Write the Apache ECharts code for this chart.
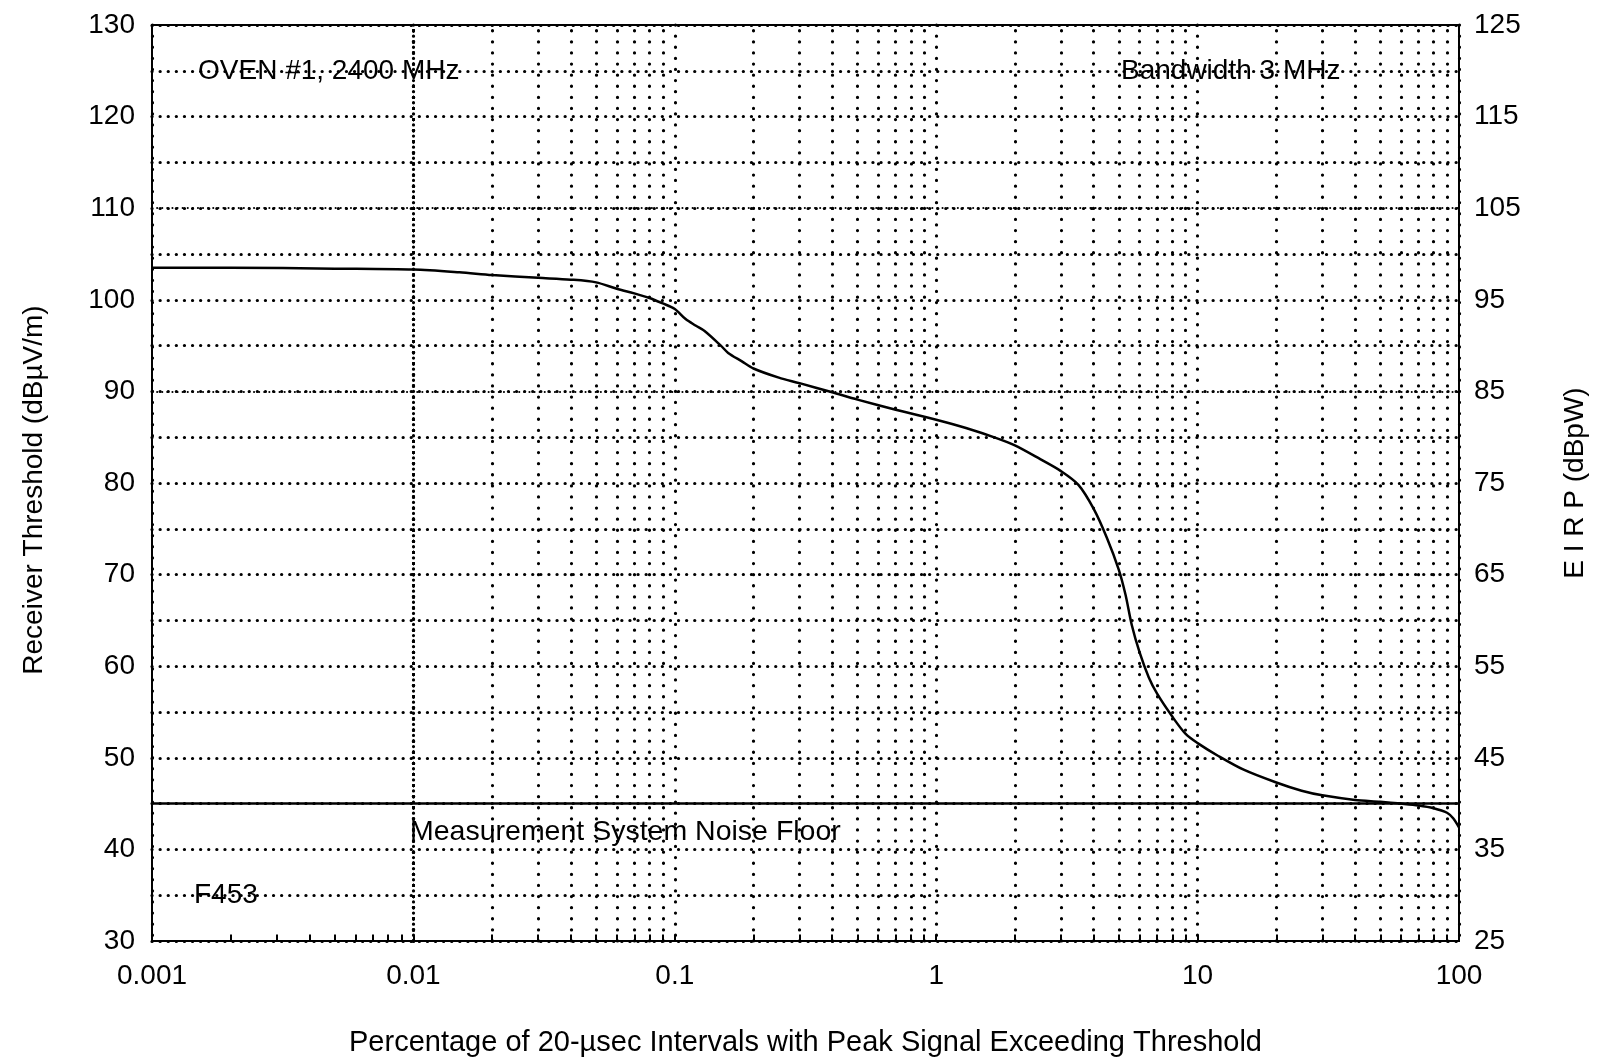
<!DOCTYPE html>
<html>
<head>
<meta charset="utf-8">
<title>OVEN #1, 2400 MHz</title>
<script src="https://cdn.jsdelivr.net/npm/echarts@6/dist/echarts.min.js"></script>
<style>
html, body { margin: 0; padding: 0; background: #fff; }
#chart { width: 1597px; height: 1064px; }
</style>
</head>
<body>
<div id="chart"></div>
<script>
// measured curve : percentage of intervals vs receiver threshold
var pctX = [0.001, 0.002, 0.005, 0.01, 0.015, 0.02, 0.03, 0.04, 0.05, 0.06, 0.07, 0.08, 0.09,
	0.1, 0.11, 0.12, 0.13, 0.15, 0.16, 0.18, 0.2, 0.25, 0.3, 0.4, 0.5, 0.7,
	1, 1.3, 1.7, 2, 2.5, 3, 3.5, 4, 4.5, 5, 5.3, 5.6, 6, 6.5, 7, 8, 9,
	10, 12, 15, 20, 25, 30, 40, 50, 60, 70, 80, 90, 95, 100];
var thresholdY = [103.5, 103.5, 103.4, 103.3, 103.0, 102.7, 102.4, 102.2, 101.9, 101.2, 100.7, 100.2, 99.6,
	99.0, 97.9, 97.2, 96.6, 95.0, 94.2, 93.3, 92.5, 91.5, 90.9, 89.9, 89.1, 88.0,
	86.9, 86.0, 84.9, 84.1, 82.6, 81.3, 79.8, 77.2, 74.0, 70.5, 67.8, 64.5, 61.5, 58.8, 57.0, 54.5, 52.6,
	51.6, 50.2, 48.7, 47.3, 46.4, 45.9, 45.4, 45.2, 45.0, 44.8, 44.5, 44.0, 43.4, 42.4];

var noiseFloorX = [0.001, 100];
var noiseFloorY = [45, 45];

// log grid positions between decades
var minorX = [0.002, 0.003, 0.004, 0.005, 0.006, 0.007, 0.008, 0.009,
	0.02, 0.03, 0.04, 0.05, 0.06, 0.07, 0.08, 0.09,
	0.2, 0.3, 0.4, 0.5, 0.6, 0.7, 0.8, 0.9,
	2, 3, 4, 5, 6, 7, 8, 9,
	20, 30, 40, 50, 60, 70, 80, 90];
var denseY = [90, 110];

var FONT = "'Liberation Sans', Arial, sans-serif";

var curveData = pctX.map(function(x, i) { return [x, thresholdY[i]]; });
var floorData = noiseFloorX.map(function(x, i) { return [x, noiseFloorY[i]]; });

var dotStyle = function(gap, w) {
	return { color: '#000', width: w || 3.2, type: [0.1, gap], cap: 'round' };
};

var myChart = echarts.init(document.getElementById('chart'));

var option = {
	backgroundColor: '#fff',
	animation: false,
	grid: {
		left: 152, right: 135, top: 25, bottom: 123,
		show: true, borderColor: '#000', borderWidth: 2, backgroundColor: 'transparent'
	},
	xAxis: {
		type: 'log',
		logBase: 10,
		min: 0.001,
		max: 100,
		name: 'Percentage of 20-\u00b5sec Intervals with Peak Signal Exceeding Threshold',
		nameLocation: 'middle',
		nameGap: 87,
		nameTextStyle: { fontFamily: FONT, fontSize: 29, color: '#000' },
		axisLine: { show: false },
		axisTick: { show: true, inside: true, length: 6, lineStyle: { color: '#000', width: 2 } },
		axisLabel: {
			fontFamily: FONT, fontSize: 28, color: '#000', margin: 21,
			formatter: function(v) { return String(Number(Number(v).toPrecision(6))); }
		},
		splitLine: { show: true, lineStyle: dotStyle(11) }
	},
	yAxis: [{
		type: 'value',
		min: 30,
		max: 130,
		interval: 10,
		name: 'Receiver Threshold (dB\u00b5V/m)',
		nameLocation: 'middle',
		nameGap: 104,
		nameRotate: 90,
		nameTextStyle: { fontFamily: FONT, fontSize: 28, color: '#000', padding: [0, 14, 0, 0] },
		axisLine: { show: false },
		axisTick: { show: false },
		axisLabel: { fontFamily: FONT, fontSize: 28, color: '#000', margin: 17 },
		splitLine: { show: true, lineStyle: dotStyle(8) },
		minorTick: { show: false, splitNumber: 2 },
		minorSplitLine: { show: true, lineStyle: dotStyle(8) }
	}, {
		type: 'value',
		position: 'right',
		min: 25,
		max: 125,
		interval: 10,
		name: 'E I R P (dBpW)',
		nameLocation: 'middle',
		nameGap: 102,
		nameRotate: 90,
		nameTextStyle: { fontFamily: FONT, fontSize: 28, color: '#000' },
		axisLine: { show: false },
		axisTick: { show: false },
		axisLabel: { fontFamily: FONT, fontSize: 28, color: '#000', margin: 15 },
		splitLine: { show: false }
	}],
	graphic: [
		{ type: 'text', left: 198, top: 57, style: { text: 'OVEN #1, 2400 MHz', font: '28px ' + FONT, fill: '#000' } },
		{ type: 'text', left: 1121, top: 57, style: { text: 'Bandwidth 3 MHz', font: '28px ' + FONT, fill: '#000' } },
		{ type: 'text', left: 410, top: 818, style: { text: 'Measurement System Noise Floor', font: '28.5px ' + FONT, fill: '#000' } },
		{ type: 'text', left: 194, top: 881, style: { text: 'F453', font: '28px ' + FONT, fill: '#000' } }
	],
	series: [{
		name: 'grid',
		type: 'line',
		data: [],
		silent: true,
		markLine: {
			silent: true,
			symbol: 'none',
			animation: false,
			label: { show: false },
			lineStyle: dotStyle(11),
			data: minorX.map(function(v) { return { xAxis: v }; })
				.concat(denseY.map(function(v) { return { yAxis: v, lineStyle: dotStyle(5, 2) }; }))
		}
	}, {
		name: 'ticks',
		type: 'line',
		data: [],
		silent: true,
		markLine: {
			silent: true,
			symbol: 'none',
			animation: false,
			label: { show: false },
			lineStyle: { color: '#000', width: 2, type: 'solid' },
			data: minorX.map(function(v) { return [{ coord: [v, 30] }, { coord: [v, 30.7] }]; })
		}
	}, {
		name: 'Noise Floor',
		type: 'line',
		data: floorData,
		symbol: 'none',
		lineStyle: { color: '#000', width: 2.5 },
		z: 5
	}, {
		name: 'Receiver Threshold',
		type: 'line',
		data: curveData,
		symbol: 'none',
		smooth: 0.3,
		lineStyle: { color: '#000', width: 2.5 },
		z: 6
	}]
};

myChart.setOption(option);
</script>
</body>
</html>
